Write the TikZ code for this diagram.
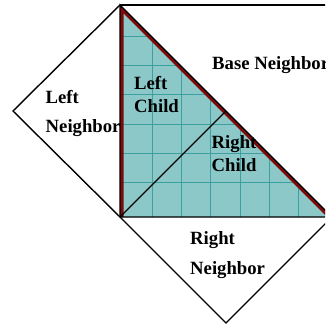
\documentclass[tikz,border=0pt]{standalone}
\usepackage{fontspec}
\setmainfont{Liberation Serif}
\definecolor{tealfill}{RGB}{140,200,200}
\definecolor{tealgrid}{RGB}{60,160,160}
\definecolor{edgered}{RGB}{125,10,10}
\tikzset{
  lbl/.style={anchor=base west, inner sep=0pt, font=\fontsize{18.7}{22}\selectfont\bfseries},
  outline/.style={draw=black, line width=1.4pt, line join=miter},
}
\begin{document}
\begin{tikzpicture}[x=1pt,y=-1pt]
\useasboundingbox (0,0) rectangle (325,326);
\clip (0,0) rectangle (325,326);
\coordinate (A) at (120,5);
\coordinate (B) at (120,217);
\coordinate (C) at (332,217);
\coordinate (D) at (332,5);
\coordinate (L) at (13,111);
\coordinate (R) at (226,323);
\coordinate (M) at (226,111);
% neighbors
\draw[outline] (A) -- (D) -- (C);
\draw[outline] (A) -- (L) -- (B);
\draw[outline] (B) -- (R) -- (C);
% main triangle fill and grid
\begin{scope}
  \clip (A) -- (B) -- (C) -- cycle;
  \fill[tealfill] (A) -- (B) -- (C) -- cycle;
  \foreach \k in {0,...,6} {
    \draw[tealgrid, line width=0.6pt] (100,{6.7+29.3*\k}) -- (340,{6.7+29.3*\k});
    \draw[tealgrid, line width=0.6pt] ({122.7+29.3*\k},0) -- ({122.7+29.3*\k},230);
  }
  \draw[edgered, line width=7pt] (B) -- (A) -- (C);
\end{scope}
\draw[outline] (A) -- (B) -- (C) -- cycle;
\draw[outline] (B) -- (M);
% labels
\node[lbl] (base) at (212,70) {Base Neighbor};
\node[lbl] (lc1) at (134,90) {Left};
\node[lbl] (lc2) at (134,112) {Child};
\node[lbl] (ln1) at (45.5,103) {Left};
\node[lbl] (ln2) at (45.5,132) {Neighbor};
\node[lbl] (rc1) at (211.5,148) {Right};
\node[lbl] (rc2) at (211.5,171) {Child};
\node[lbl] (rn1) at (190,244) {Right};
\node[lbl] (rn2) at (190,274) {Neighbor};
\end{tikzpicture}
\end{document}
